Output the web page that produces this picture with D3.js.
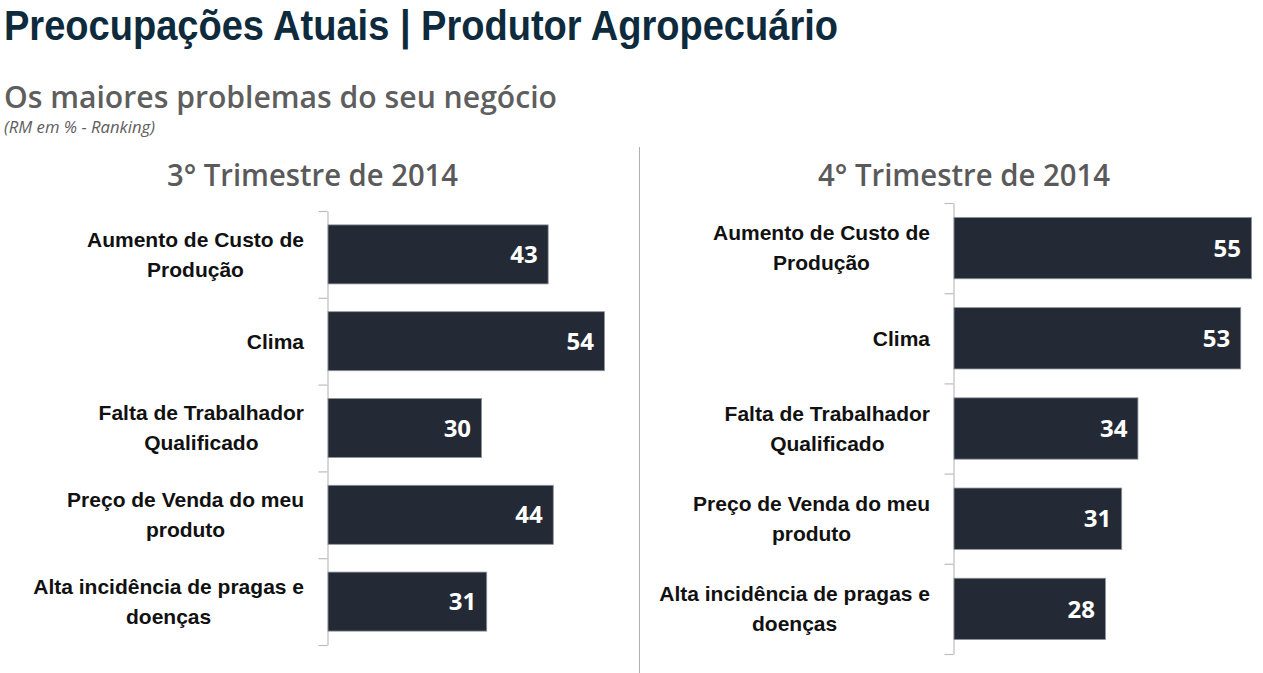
<!DOCTYPE html>
<html><head><meta charset="utf-8">
<script src="https://cdn.jsdelivr.net/npm/d3@7"></script>
<style>body{margin:0;background:#fff}svg{display:block}</style>
</head><body>
<svg id="c" width="1263" height="673"></svg>
<script>
const categories = [
  "Aumento de Custo de Produção",
  "Clima",
  "Falta de Trabalhador Qualificado",
  "Preço de Venda do meu produto",
  "Alta incidência de pragas e doenças"
];
const categoryLines = [
  ["Aumento de Custo de", "Produção"],
  ["Clima"],
  ["Falta de Trabalhador", "Qualificado"],
  ["Preço de Venda do meu", "produto"],
  ["Alta incidência de pragas e", "doenças"]
];
const q3Values = [43, 54, 30, 44, 31];
const q4Values = [55, 53, 34, 31, 28];
const panelTitles = ["3° Trimestre de 2014", "4° Trimestre de 2014"];
const mainTitle = "Preocupações Atuais | Produtor Agropecuário";
const subTitle = "Os maiores problemas do seu negócio";
const note = "(RM em % - Ranking)";

const svg = d3.select("#c");

// Titles
svg.append("text").attr("x", 4).attr("y", 40)
  .attr("font-family", "Liberation Sans").attr("font-weight", 700).attr("font-size", 43)
  .attr("fill", "#0e2a3d").attr("textLength", 834).attr("lengthAdjust", "spacingAndGlyphs")
  .text(mainTitle);
svg.append("text").attr("x", 4).attr("y", 108)
  .attr("font-family", "Open Sans").attr("font-weight", 600).attr("font-size", 31)
  .attr("fill", "#5e5e5e").attr("textLength", 553).attr("lengthAdjust", "spacingAndGlyphs")
  .text(subTitle);
svg.append("text").attr("x", 4).attr("y", 133)
  .attr("font-family", "Open Sans").attr("font-style", "italic").attr("font-size", 16)
  .attr("fill", "#5e5e5e").attr("textLength", 151).attr("lengthAdjust", "spacingAndGlyphs")
  .text(note);

// divider
svg.append("line").attr("x1", 639.5).attr("x2", 639.5).attr("y1", 147).attr("y2", 673)
  .attr("stroke", "#b0b0b0").attr("stroke-width", 1);

const panels = [
  {values: q3Values, title: panelTitles[0], titleX: 312.5, titleW: 291, x0: 327.5, ppu: 5.12, y0: 211, y1: 645, labelRight: 304},
  {values: q4Values, title: panelTitles[1], titleX: 964, titleW: 292, x0: 953.5, ppu: 5.41, y0: 203, y1: 654, labelRight: 930}
];

panels.forEach(p => {
  const g = svg.append("g");
  g.append("text").attr("x", p.titleX).attr("y", 186).attr("text-anchor", "middle")
    .attr("font-family", "Open Sans").attr("font-weight", 600).attr("font-size", 30)
    .attr("fill", "#5a5a5a").attr("textLength", p.titleW).attr("lengthAdjust", "spacingAndGlyphs")
    .text(p.title);

  const x = d3.scaleLinear().domain([0, 60]).range([p.x0, p.x0 + 60 * p.ppu]);
  const y = d3.scaleBand().domain(categories).range([p.y0, p.y1]).paddingInner(0.32).paddingOuter(0.16);

  // axis line with ticks at band boundaries
  const yb = d3.scaleLinear().domain([0, categories.length]).range([p.y0, p.y1]);
  const axis = d3.axisLeft(yb).tickValues(d3.range(categories.length + 1)).tickSize(9).tickSizeOuter(0).tickFormat("");
  const ag = g.append("g").attr("transform", `translate(${p.x0},0)`).call(axis);
  ag.selectAll("path,line").attr("stroke", "#bdbdbd").attr("stroke-width", 1.2);

  g.selectAll("rect.bar").data(p.values).join("rect").attr("class", "bar")
    .attr("x", x(0) + 0.5).attr("y", (d, i) => y(categories[i]))
    .attr("width", d => x(d) - x(0)).attr("height", y.bandwidth())
    .attr("fill", "#232a35").attr("stroke", "#8e949c").attr("stroke-width", 0.8);

  g.selectAll("text.val").data(p.values).join("text").attr("class", "val")
    .attr("x", d => x(d) - 10).attr("y", (d, i) => y(categories[i]) + y.bandwidth() / 2)
    .attr("dy", "0.36em").attr("text-anchor", "end")
    .attr("font-family", "Open Sans").attr("font-weight", 700).attr("font-size", 24)
    .attr("fill", "#ffffff").text(d => d);

  // category labels: block right-aligned, lines centered within block
  categoryLines.forEach((lines, i) => {
    const cy = y(categories[i]) + y.bandwidth() / 2;
    const t = g.append("text").attr("font-family", "Liberation Sans").attr("font-weight", 700)
      .attr("font-size", 21).attr("fill", "#111").attr("text-anchor", "middle");
    const spans = lines.map((l, k) => t.append("tspan").text(l));
    const widths = spans.map(s => s.node().getComputedTextLength());
    const bw = d3.max(widths);
    const cx = p.labelRight - bw / 2;
    const lh = 30;
    spans.forEach((s, k) => s.attr("x", cx).attr("y", cy + (k - (lines.length - 1) / 2) * lh).attr("dy", "0.35em"));
  });
});
</script>
</body></html>
